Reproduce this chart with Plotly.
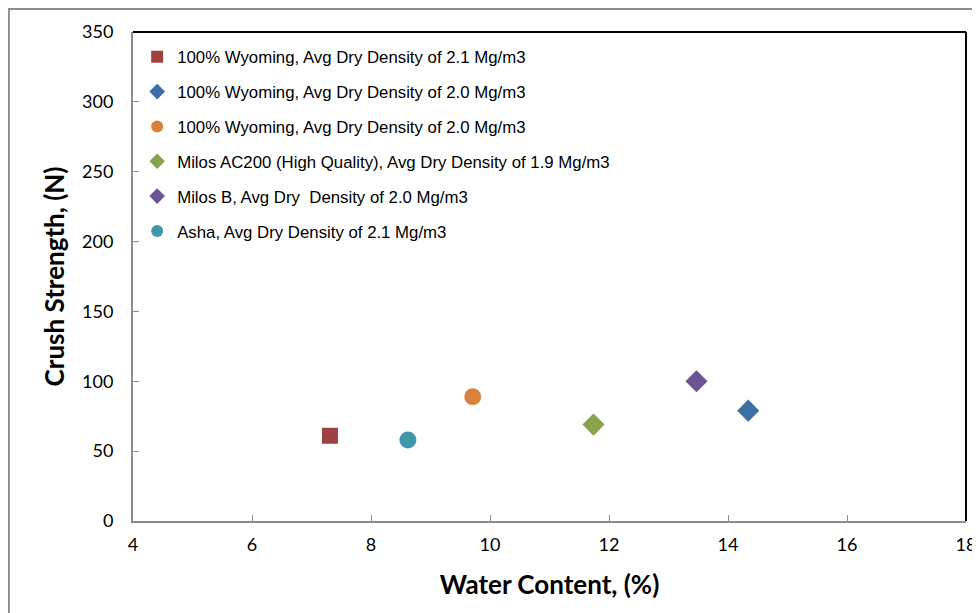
import plotly.graph_objects as go

# series: water content (%) vs crush strength (N)
names = [
    '100% Wyoming, Avg Dry Density of 2.1 Mg/m3',
    '100% Wyoming, Avg Dry Density of 2.0 Mg/m3',
    '100% Wyoming, Avg Dry Density of 2.0 Mg/m3',
    'Milos AC200 (High Quality), Avg Dry Density of 1.9 Mg/m3',
    'Milos B, Avg Dry  Density of 2.0 Mg/m3',
    'Asha, Avg Dry Density of 2.1 Mg/m3',
]
water = [7.31, 14.34, 9.71, 11.74, 13.47, 8.62]
strength = [61, 79, 89, 69, 100, 58]

colors = ['#9E4140', '#3A6EA5', '#D8823C', '#86A44A', '#6C5494', '#4097A9']
symbols = ['square', 'diamond', 'circle', 'diamond', 'diamond', 'circle']
sizes = [16, 17, 17, 17, 17, 17]

axis_font = 'Lato'
legend_font = 'Liberation Sans'

fig = go.Figure()

for i in range(len(names)):
    fig.add_trace(go.Scatter(
        x=[water[i]], y=[strength[i]],
        mode='markers',
        name=names[i],
        legendgroup=str(i),
        marker=dict(color=colors[i], symbol=symbols[i], size=sizes[i],
                    line=dict(width=0)),
    ))

# outer chart border and dark top/right plot frame
fig.add_shape(type='rect', xref='paper', yref='paper',
              x0=-0.149, x1=1.03, y0=-0.25, y1=1.047,
              line=dict(color='#8c8c8c', width=2), layer='below')
fig.add_shape(type='line', xref='paper', yref='paper',
              x0=0, x1=1, y0=1, y1=1, line=dict(color='#000000', width=2))
fig.add_shape(type='line', xref='paper', yref='paper',
              x0=1, x1=1, y0=0, y1=1, line=dict(color='#000000', width=2))

fig.update_xaxes(
    range=[4, 18], dtick=2, tick0=4,
    showgrid=False, zeroline=False, automargin=False,
    showline=True, linecolor='#8c8c8c', linewidth=2,
    ticks='inside', ticklen=6, tickcolor='#8c8c8c',
    ticklabelstandoff=6,
    tickfont=dict(family=axis_font, size=18, color='#000000'),
    title=dict(text='<b>Water Content, (%)</b>', standoff=22,
               font=dict(family=axis_font, size=26, color='#000000')),
)
fig.update_yaxes(
    range=[0, 350], dtick=50,
    showgrid=False, zeroline=False, automargin=False,
    showline=True, linecolor='#8c8c8c', linewidth=2,
    ticks='inside', ticklen=6, tickcolor='#8c8c8c',
    ticklabelstandoff=14,
    tickfont=dict(family=axis_font, size=18, color='#000000'),
    title=dict(text='<b>Crush Strength, (N)</b>', standoff=10,
               font=dict(family=axis_font, size=26, color='#000000')),
)

fig.update_layout(
    width=972, height=605,
    margin=dict(l=125, r=14, t=24, b=92),
    paper_bgcolor='white', plot_bgcolor='white',
    legend=dict(
        x=0.005, y=0.985, xanchor='left', yanchor='top',
        bgcolor='rgba(0,0,0,0)',
        font=dict(family=legend_font, size=16.8, color='#000000'),
        tracegroupgap=10, itemsizing='constant', itemwidth=30,
    ),
)

fig.write_html('out.html')
